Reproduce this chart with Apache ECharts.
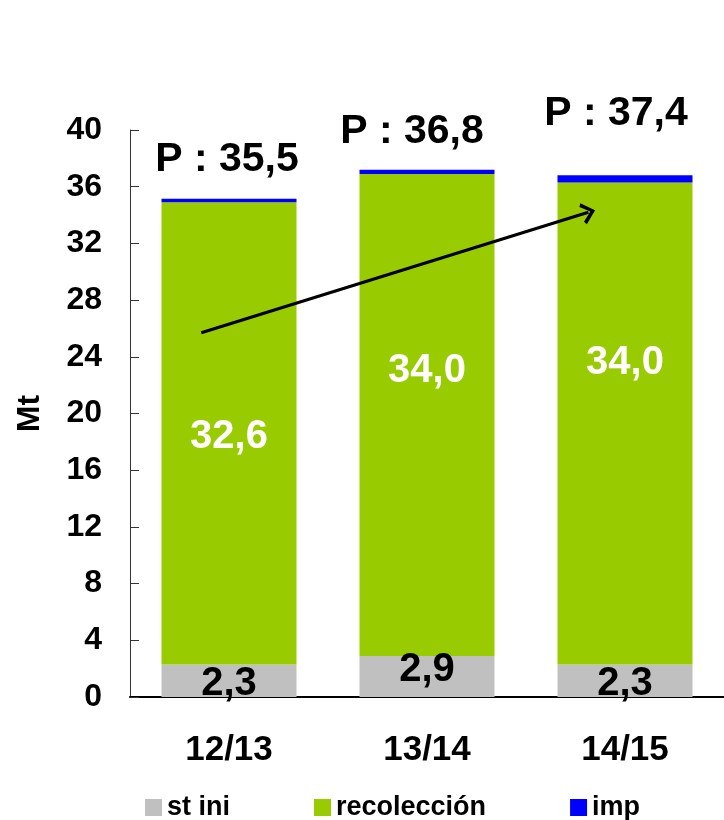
<!DOCTYPE html>
<html>
<head>
<meta charset="utf-8">
<script src="https://cdn.jsdelivr.net/npm/echarts@6/dist/echarts.min.js"></script>
<style>
  html, body { margin: 0; padding: 0; background: #fff; }
  #chart { width: 724px; height: 820px; }
</style>
</head>
<body>
<div id="chart"></div>
<script>
// datos del gráfico (Mt)
const categories = ['12/13', '13/14', '14/15'];
const stIni = [2.3, 2.9, 2.3];
const recoleccion = [32.6, 34.0, 34.0];
const imp = [0.25, 0.3, 0.5];
const totalP = [35.5, 36.8, 37.4];
const yMin = 0, yMax = 40, yStep = 4;
// flecha de tendencia: [posición en categorías, Mt]
const trendArrow = [[-0.14, 25.7], [1.815, 34.2]];

const FONT = "'Liberation Sans', Arial, sans-serif";
const fmt = v => v.toFixed(1).replace('.', ',');

// desplazamientos de las etiquetas, como en la lámina original
const stShift = [[0, 3], [0, -6], [0, 3]];
const recShift = [[0, 4], [0, -44], [0, -60]];
const pShift = [[-2, 3], [-15, 4], [-9, -19]];

const chart = echarts.init(document.getElementById('chart'));

const option = {
  animation: false,
  grid: { left: 130, top: 130, width: 600, height: 567 },
  legend: {
    data: ['st ini', 'recolección', 'imp'],
    left: 140,
    top: 789,
    icon: 'rect',
    itemWidth: 17,
    itemHeight: 17,
    itemGap: 84,
    textStyle: { fontFamily: FONT, fontSize: 27, fontWeight: 'bold', color: '#000' }
  },
  xAxis: [
    {
      type: 'category',
      data: categories,
      axisLine: { lineStyle: { color: '#000', width: 2 } },
      axisTick: { show: false },
      axisLabel: { margin: 36, fontFamily: FONT, fontSize: 35, fontWeight: 'bold', color: '#000' }
    },
    { type: 'value', min: -0.5, max: 2.5, show: false }
  ],
  yAxis: {
    type: 'value',
    min: yMin,
    max: yMax,
    interval: yStep,
    name: 'Mt',
    nameLocation: 'middle',
    nameRotate: 90,
    nameGap: 84,
    nameTextStyle: { fontFamily: FONT, fontSize: 32, fontWeight: 'bold', color: '#000' },
    axisLine: { show: true, onZero: false, lineStyle: { color: '#333', width: 1 } },
    axisTick: { show: true, inside: true, length: 9, lineStyle: { color: '#333' } },
    splitLine: { show: false },
    axisLabel: { margin: 28, fontFamily: FONT, fontSize: 32, fontWeight: 'bold', color: '#000' }
  },
  series: [
    {
      name: 'st ini',
      type: 'bar',
      stack: 'total',
      barWidth: 135,
      itemStyle: { color: '#C0C0C0' },
      label: {
        show: true, position: 'inside', formatter: p => fmt(p.value),
        fontFamily: FONT, fontSize: 40, fontWeight: 'bold', color: '#000'
      },
      data: stIni.map((v, i) => ({ value: v, label: { offset: stShift[i] } }))
    },
    {
      name: 'recolección',
      type: 'bar',
      stack: 'total',
      itemStyle: { color: '#99CC00' },
      label: {
        show: true, position: 'inside', formatter: p => fmt(p.value),
        fontFamily: FONT, fontSize: 40, fontWeight: 'bold', color: '#fff'
      },
      data: recoleccion.map((v, i) => ({ value: v, label: { offset: recShift[i] } }))
    },
    {
      name: 'imp',
      type: 'bar',
      stack: 'total',
      itemStyle: { color: '#0000FF' },
      label: {
        show: true, position: 'top', distance: 22,
        formatter: p => 'P : ' + fmt(totalP[p.dataIndex]),
        fontFamily: FONT, fontSize: 41, fontWeight: 'bold', color: '#000'
      },
      data: imp.map((v, i) => ({ value: v, label: { offset: pShift[i] } }))
    },
    {
      name: 'tendencia',
      type: 'line',
      xAxisIndex: 1,
      data: [],
      silent: true,
      markLine: {
        silent: true,
        animation: false,
        label: { show: false },
        lineStyle: { color: '#000', width: 3, type: 'solid' },
        symbol: ['none', 'path://M0,12 L10,0 L20,12 L17,14 L10,5 L3,14 Z'],
        symbolSize: [22, 14],
        data: [[{ coord: trendArrow[0] }, { coord: trendArrow[1] }]]
      }
    }
  ]
};

chart.setOption(option);
</script>
</body>
</html>
